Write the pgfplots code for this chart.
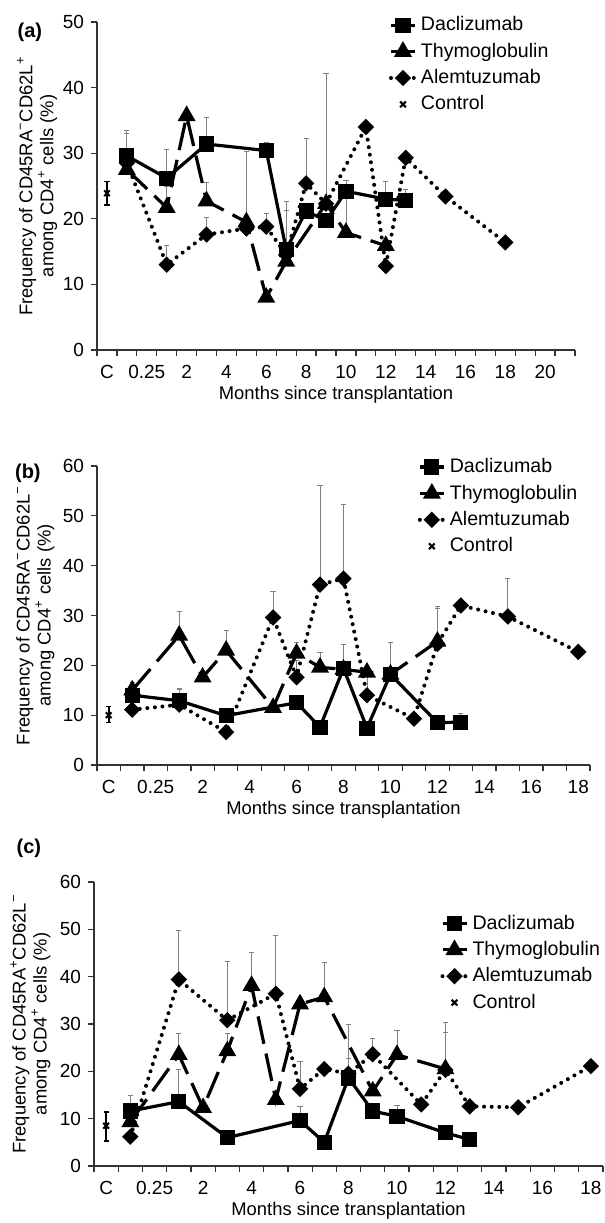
\documentclass[border=0pt]{standalone}
\usepackage{pgfplots}
\pgfplotsset{compat=1.18}
\usepackage{fontspec}
\setmainfont{Liberation Sans}

\pgfplotsset{
  legend image code/.code={\draw[mark repeat=2, mark phase=2, #1]
    plot coordinates {(0pt,0pt) (6pt,0pt) (12pt,0pt)};},
  panel/.style={
    scale only axis, clip=false,
    axis x line*=bottom, axis y line*=left,
    axis line style={black!80, line width=0.6pt},
    tick align=outside,
    major x tick style={draw=none},
    minor x tick style={black!80, line width=0.6pt},
    y tick style={black!80, line width=0.6pt},
    major tick length=3pt, minor tick length=3pt,
    xmin=-0.5, ymin=0,
    /pgf/number format/assume math mode=true,
    tick label style={font=\fontsize{9.5}{11}\selectfont},
    xticklabel style={yshift=-1pt},
    label style={font=\fontsize{9.2}{10.5}\selectfont},
    xlabel={Months since transplantation},
    xlabel style={yshift=2.8pt},
    ylabel style={align=center, at={(axis description cs:-0.125,0.5)}, anchor=center},
    legend style={draw=none, fill=none, font=\fontsize{9.8}{11}\selectfont,
      anchor=north west, row sep=0.6pt, inner sep=0pt},
    legend cell align=left,
  },
  dac/.style={black, line width=1.6pt, solid, mark=square*, mark size=3pt, mark options={solid}},
  thy/.style={black, line width=1.6pt, dash pattern=on 14pt off 5pt, mark=triangle*, mark size=3.6pt, mark options={solid}},
  alem/.style={black, line width=2pt, dash pattern=on 0pt off 3.8pt, line cap=round, mark=square*, mark size=1.9pt, mark options={solid, rotate=45}},
  ctrl/.style={black, only marks, mark=x, mark size=2pt, line width=1pt},
  ebar/.style={draw=none, mark=none, forget plot, error bars/.cd, y dir=plus, y explicit,
    error bar style={draw=gray, line width=0.45pt, solid},
    error mark options={draw=gray, rotate=90, mark size=1.3pt, solid, line width=0.45pt}},
  cbar/.style={error bars/.cd, y dir=both, y explicit,
    error bar style={draw=black, line width=1pt, solid},
    error mark options={draw=black, rotate=90, mark size=1.3pt, solid, line width=0.6pt}},
}

\begin{document}
\begin{tikzpicture}
\useasboundingbox (0,0) rectangle (302.5pt,611.5pt);

% ---------- (a) ----------
\begin{axis}[panel, at={(48.5pt,436.5pt)}, anchor=south west,
  width=239pt, height=164pt, xmax=23.5, ymax=50,
  ylabel={Frequency of CD45RA\textsuperscript{−}CD62L\textsuperscript{+}\\among CD4\textsuperscript{+} cells (\%)},
  ytick={0,10,...,50},
  xtick={0,2,...,22}, minor xtick={-0.5,0.5,...,23.5},
  xticklabels={C,0.25,2,4,6,8,10,12,14,16,18,20},
  legend style={at={(0.61,1.03)}}]
\addplot[ebar] coordinates {(1,29.6) +- (0,3.8) (3,26.2) +- (0,4.4) (5,31.4) +- (0,4.0)
  (8,30.4) +- (0,1.2) (9,15.3) +- (0,7.3) (12,24.2) +- (0,1.6) (14,23.0) +- (0,2.7) (15,22.8) +- (0,1.6)};
\addplot[ebar] coordinates {(3,21.7) +- (0,3.3) (5,22.7) +- (0,2.8) (9,13.5) +- (0,7.8)
  (11,22.3) +- (0,19.9) (12,17.9) +- (0,6.6)};
\addplot[ebar] coordinates {(1,28.5) +- (0,4.5) (3,13.0) +- (0,2.9) (5,17.6) +- (0,2.6)
  (7,18.5) +- (0,11.7) (8,18.8) +- (0,2.0) (10,25.4) +- (0,6.9) (17,23.4) +- (0,0.9)};
\addplot[dac] coordinates {(1,29.6) (3,26.2) (5,31.4) (8,30.4) (9,15.3) (10,21.2) (11,19.7)
  (12,24.2) (14,23.0) (15,22.8)};
\addplot[thy] coordinates {(1,27.5) (3,21.7) (4,35.7) (5,22.7) (7,19.5) (8,8.0) (9,13.5)
  (11,22.3) (12,17.9) (14,15.9)};
\addplot[alem] coordinates {(1,28.5) (3,13.0) (5,17.6) (7,18.5) (8,18.8) (9,14.5) (10,25.4)
  (11,22.3) (13,34.0) (14,12.8) (15,29.3) (17,23.4) (20,16.4)};
\addplot[ctrl, cbar] coordinates {(0,23.9) +=(0,1.8) -=(0,1.8)};
\legend{Daclizumab, Thymoglobulin, Alemtuzumab, Control}
\node[font=\bfseries\fontsize{10}{11}\selectfont, anchor=north east] at (rel axis cs:-0.1,1.02) {(a)};
\end{axis}

% ---------- (b) ----------
\begin{axis}[panel, at={(48.5pt,229pt)}, anchor=south west,
  width=246.5pt, height=149.5pt, xmax=20.5, ymax=60,
  ylabel={Frequency of CD45RA\textsuperscript{−}CD62L\textsuperscript{−}\\among CD4\textsuperscript{+} cells (\%)},
  ytick={0,10,...,60},
  xtick={0,2,...,20}, minor xtick={-0.5,0.5,...,20.5},
  xticklabels={C,0.25,2,4,6,8,10,12,14,16,18},
  legend style={at={(0.65,1.04)}}]
\addplot[ebar] coordinates {(1,14.0) +- (0,2.5) (3,12.9) +- (0,2.4) (8,12.5) +- (0,1.5)
  (10,19.4) +- (0,4.8) (12,18.2) +- (0,6.4) (14,8.5) +- (0,0.9) (15,8.6) +- (0,1.7)};
\addplot[ebar] coordinates {(1,15.0) +- (0,1.2) (3,26.0) +- (0,4.9) (5,23.0) +- (0,4.1)
  (8,22.4) +- (0,2.1) (9,19.6) +- (0,3.0) (14,24.8) +- (0,7.1)};
\addplot[ebar] coordinates {(3,12.1) +- (0,3.1) (5,6.6) +- (0,1.4) (7,29.6) +- (0,5.3)
  (8,17.6) +- (0,3.4) (9,36.2) +- (0,19.9) (10,37.4) +- (0,14.9) (11,14.0) +- (0,4.8)
  (14,24.3) +- (0,7.2) (17,29.8) +- (0,7.6)};
\addplot[dac] coordinates {(1,14.0) (3,12.9) (5,9.9) (8,12.5) (9,7.6) (10,19.4) (11,7.4)
  (12,18.2) (14,8.5) (15,8.6)};
\addplot[thy] coordinates {(1,15.0) (3,26.0) (4,17.6) (5,23.0) (7,11.5) (8,22.4) (9,19.6)
  (10,19.2) (11,18.6) (12,18.2) (14,24.8)};
\addplot[alem] coordinates {(1,11.1) (3,12.1) (5,6.6) (7,29.6) (8,17.6) (9,36.2) (10,37.4)
  (11,14.0) (13,9.3) (14,24.3) (15,32.0) (17,29.8) (20,22.7)};
\addplot[ctrl, cbar] coordinates {(0,10.0) +=(0,1.8) -=(0,1.5)};
\legend{Daclizumab, Thymoglobulin, Alemtuzumab, Control}
\node[font=\bfseries\fontsize{10}{11}\selectfont, anchor=north east] at (rel axis cs:-0.1,1.03) {(b)};
\end{axis}

% ---------- (c) ----------
\begin{axis}[panel, at={(47pt,28.5pt)}, anchor=south west,
  width=254.5pt, height=142pt, xmax=20.5, ymax=60,
  ylabel={Frequency of CD45RA\textsuperscript{+}CD62L\textsuperscript{−}\\among CD4\textsuperscript{+} cells (\%)},
  ytick={0,10,...,60},
  xtick={0,2,...,20}, minor xtick={-0.5,0.5,...,20.5},
  xticklabels={C,0.25,2,4,6,8,10,12,14,16,18},
  legend style={at={(0.68,0.90)}}]
\addplot[ebar] coordinates {(1,11.6) +- (0,3.2) (3,13.6) +- (0,6.7) (5,6.0) +- (0,1.5)
  (8,9.6) +- (0,2.9) (10,18.6) +- (0,4.2) (12,10.5) +- (0,2.3)};
\addplot[ebar] coordinates {(3,23.5) +- (0,4.5) (5,24.3) +- (0,3.7) (6,38.1) +- (0,7.1)
  (9,35.7) +- (0,7.2) (12,23.5) +- (0,5.1) (14,20.5) +- (0,7.7)};
\addplot[ebar] coordinates {(3,39.4) +- (0,10.3) (5,30.8) +- (0,12.4) (7,36.4) +- (0,12.3)
  (8,16.3) +- (0,5.8) (10,19.5) +- (0,10.5) (11,23.6) +- (0,3.4) (14,20.3) +- (0,10.0)};
\addplot[dac] coordinates {(1,11.6) (3,13.6) (5,6.0) (8,9.6) (9,5.0) (10,18.6) (11,11.6)
  (12,10.5) (14,7.0) (15,5.6)};
\addplot[thy] coordinates {(1,9.3) (3,23.5) (4,12.3) (5,24.3) (6,38.1) (7,14.0) (8,34.2)
  (9,35.7) (11,15.8) (12,23.5) (14,20.5)};
\addplot[alem] coordinates {(1,6.2) (3,39.4) (5,30.8) (7,36.4) (8,16.3) (9,20.5) (10,19.5)
  (11,23.6) (13,13.0) (14,20.3) (15,12.6) (17,12.4) (20,21.1)};
\addplot[ctrl, cbar] coordinates {(0,8.5) +=(0,2.9) -=(0,3.2)};
\legend{Daclizumab, Thymoglobulin, Alemtuzumab, Control}
\node[font=\bfseries\fontsize{10}{11}\selectfont, anchor=south east] at (rel axis cs:-0.09,1.06) {(c)};
\end{axis}
\end{tikzpicture}
\end{document}
